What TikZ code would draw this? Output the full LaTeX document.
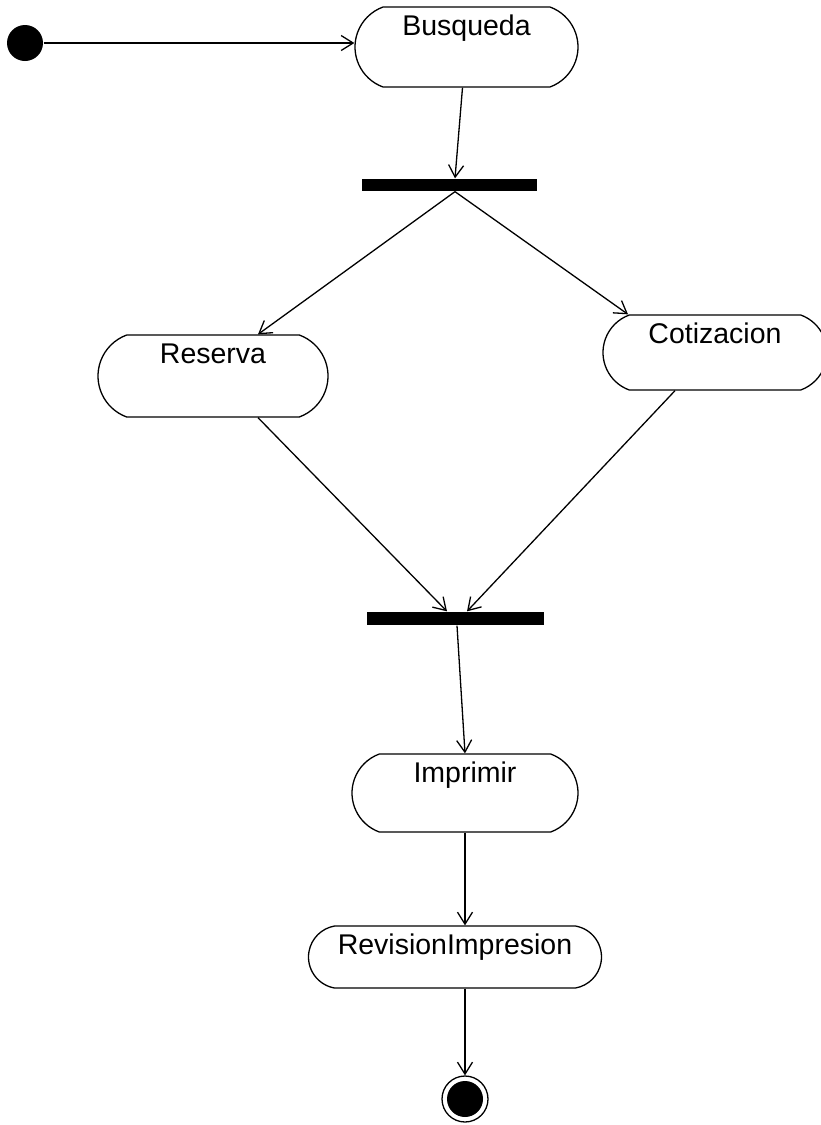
\documentclass[tikz,border=0pt]{standalone}
\usepackage{fontspec}
\setmainfont{Liberation Sans}
\usetikzlibrary{arrows.meta,shapes.misc}

\begin{document}
\begin{tikzpicture}[x=1pt, y=-1pt,
  every path/.style={line width=1.3pt},
  activity/.style={draw, rounded rectangle, rounded rectangle arc length=140,
    inner xsep=0pt, inner ysep=0pt,
    text height=28pt, font=\fontsize{28.5}{34}\selectfont},
  syncbar/.style={fill=black, draw=none, rectangle, inner sep=0pt},
  flow/.style={-{Straight Barb[length=12pt,width=15pt]}},
]
\useasboundingbox (0,0) rectangle (820,1125);

% start and end states
\node[circle, fill=black, minimum size=36pt, inner sep=0pt] (init) at (25,43) {};
\node[circle, draw, minimum size=46pt, inner sep=0pt] (fin) at (465,1099) {};
\fill (fin.center) circle (18pt);

% activities
\node[activity, minimum width=223pt, text depth=52pt] (busq) at (466.5,47) {Busqueda};
\node[activity, minimum width=230pt, text depth=54pt] (res) at (213,376) {Reserva};
\node[activity, minimum width=224pt, text depth=47pt] (cot) at (715,352.5) {Cotizacion};
\node[activity, minimum width=226pt, text depth=50pt] (imp) at (465,793) {Imprimir};
\node[activity, rounded rectangle arc length=160, minimum width=293pt, text depth=34pt] (rev) at (455,957) {RevisionImpresion};

% fork and join bars
\node[syncbar, minimum width=175pt, minimum height=12pt] (fork) at (449.5,185) {};
\node[syncbar, minimum width=177pt, minimum height=13pt] (join) at (455,618.5) {};

% transitions
\draw[flow] (init.east) -- (init -| busq.west);
\draw[flow] ([xshift=-4pt]busq.south) -- ([xshift=5.5pt]fork.north);
\draw[flow] ([xshift=5.5pt]fork.south) -- ([xshift=45pt]res.north);
\draw[flow] ([xshift=5.5pt]fork.south) -- ([xshift=-87pt]cot.north);
\draw[flow] ([xshift=45pt]res.south) -- ([xshift=-8pt]join.north);
\draw[flow] ([xshift=-40pt]cot.south) -- ([xshift=12pt]join.north);
\draw[flow] ([xshift=2pt]join.south) -- (imp.north);
\draw[flow] (imp.south) -- (imp.south |- rev.north);
\draw[flow] (rev.south -| fin.north) -- (fin.north);
\end{tikzpicture}
\end{document}
